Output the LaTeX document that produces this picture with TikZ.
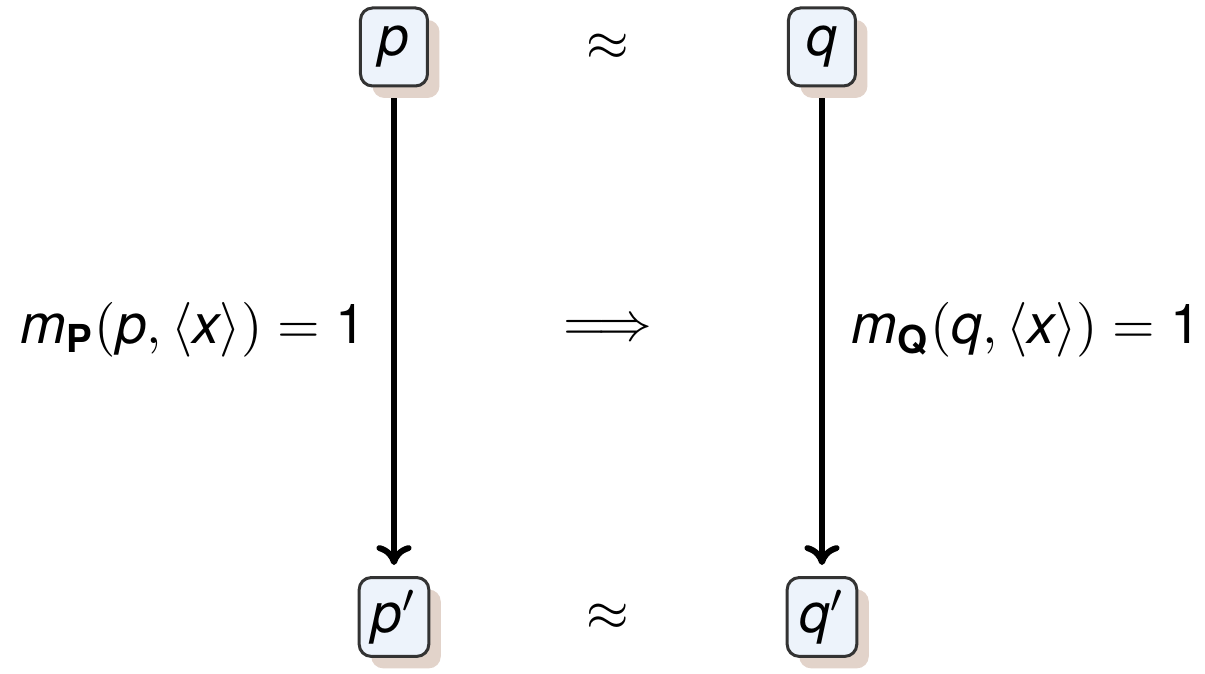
\documentclass[tikz,border=0pt]{standalone}
\usepackage{amsmath,amssymb}
\usepackage[no-math]{fontspec}
\setmainfont{TeX Gyre Heros}
\usepackage{xcolor}
\usepackage{tikz}
\usetikzlibrary{arrows.meta,shadows}
\definecolor{statefill}{HTML}{EDF3FB}
\definecolor{statedraw}{HTML}{333333}
\definecolor{stateshade}{HTML}{E2D3CA}
\newcommand{\sv}[1]{\text{\itshape #1}}
\newcommand{\sbf}[1]{\text{\bfseries\upshape #1}}

\begin{document}
\begin{tikzpicture}[
  x=0.2pt, y=-0.2pt,
  font=\fontsize{11}{13}\selectfont,
  state/.style={rectangle, rounded corners=2.4pt, draw=statedraw, line width=0.6pt,
    fill=statefill, minimum width=13.4pt, minimum height=15.6pt, inner sep=2.5pt,
    drop shadow={shadow xshift=2.4pt, shadow yshift=-2.4pt, fill=stateshade, opacity=1}},
  rel/.style={inner sep=1pt},
  trans/.style={-{To[length=4pt,width=7pt]}, line width=1.2pt, black,
    shorten <=2.2pt, shorten >=2.2pt}
]
\useasboundingbox (0,0) rectangle (1205,674);
% states before
\node[state] (p) at (394,47) {$\sv{p}$};
\node[state] (q) at (822,47) {$\sv{q}$};
% states after
\node[state] (pp) at (394,617) {$\sv{p}'$};
\node[state] (qq) at (822,617) {$\sv{q}'$};
% relations
\node[rel] (simtop) at (608,47) {$\approx$};
\node[rel] (simbot) at (608,617) {$\approx$};
\node[rel] (impl) at (608,330) {$\Longrightarrow$};
% transitions
\draw[trans] (p)--(pp);
\draw[trans] (q)--(qq);
\node[rel, anchor=east] (mp) at (372,330) {$\sv{m}_{\sbf{P}}(\sv{p},\langle \sv{x}\rangle)=\text{1}$};
\node[rel, anchor=west] (mq) at (846,330) {$\sv{m}_{\sbf{Q}}(\sv{q},\langle \sv{x}\rangle)=\text{1}$};
\end{tikzpicture}
\end{document}
